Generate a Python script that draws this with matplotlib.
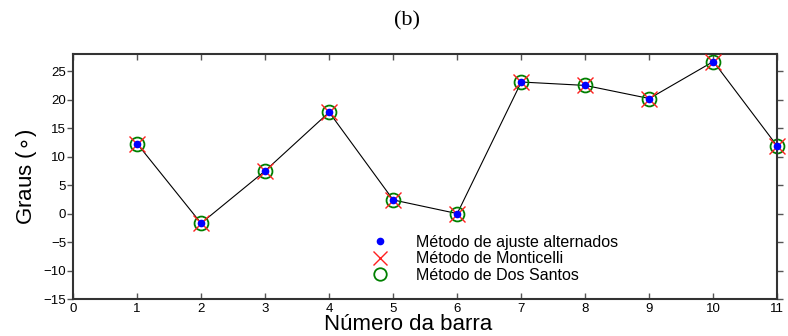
import matplotlib
matplotlib.use("Agg")
import matplotlib.pyplot as plt
from matplotlib.lines import Line2D

barras = [1, 2, 3, 4, 5, 6, 7, 8, 9, 10, 11]
ajuste_alternados = [12.3, -1.7, 7.5, 17.8, 2.4, 0.0, 23.1, 22.5, 20.2, 26.7, 11.8]
monticelli = [12.3, -1.7, 7.5, 17.8, 2.4, 0.0, 23.1, 22.5, 20.2, 26.7, 11.8]
dos_santos = [12.3, -1.7, 7.5, 17.8, 2.4, 0.0, 23.1, 22.5, 20.2, 26.7, 11.8]
xticks = list(range(0, 12))
yticks = list(range(-15, 30, 5))

sans = "Liberation Sans"

fig = plt.figure(figsize=(7.88, 3.36), dpi=100)
ax = fig.add_axes([0.0926, 0.110, 0.894, 0.729])

ax.plot(barras, ajuste_alternados, color="black", lw=0.8, zorder=1)
ax.plot(barras, dos_santos, ls="none", marker="o", ms=10, mfc="none",
        mec="#008000", mew=1.3, zorder=2, clip_on=False)
ax.plot(barras, monticelli, ls="none", marker="x", ms=12, color="#ff2020",
        mew=1.0, zorder=3, clip_on=False)
ax.plot(barras, ajuste_alternados, ls="none", marker="o", ms=4.5,
        color="#0000ff", zorder=4, clip_on=False)

ax.set_xlim(0, 11)
ax.set_ylim(-15, 28)
ax.set_xticks(xticks)
ax.set_yticks(yticks)
for lab in ax.get_xticklabels() + ax.get_yticklabels():
    lab.set_fontfamily(sans)
    lab.set_fontsize(9.5)
ax.tick_params(axis="x", direction="in", top=True, length=4, width=1, pad=3,
               color="#555555")
ax.tick_params(axis="y", direction="out", right=False, length=4, width=1, pad=1,
               color="#555555")
ax.tick_params(axis="y", which="both", right=True)
for s in ax.spines.values():
    s.set_color("#333333")
    s.set_linewidth(1.5)

ax.set_xlabel("Número da barra", family=sans, fontsize=16, labelpad=-1)
ax.xaxis.label.set_x(0.476)
ax.set_ylabel(r"Graus ($\circ$)", family=sans, fontsize=16, labelpad=3)
fig.text(0.517, 0.937, "(b)", family="Liberation Serif", fontsize=16,
         ha="center", va="center")

handles = [
    Line2D([], [], ls="none", marker="o", ms=4.5, color="#0000ff"),
    Line2D([], [], ls="none", marker="x", ms=10, color="#ff2020", mew=1.0),
    Line2D([], [], ls="none", marker="o", ms=9, mfc="none", mec="#008000", mew=1.3),
]
labels = ["Método de ajuste alternados", "Método de Monticelli", "Método de Dos Santos"]
leg = ax.legend(handles, labels, loc="upper left", bbox_to_anchor=(0.408, 0.295),
                frameon=False, prop={"family": sans, "size": 11.5},
                handlelength=1.5, handletextpad=1.5, labelspacing=0.1,
                borderpad=0)

fig.savefig("out.png", dpi=100)
